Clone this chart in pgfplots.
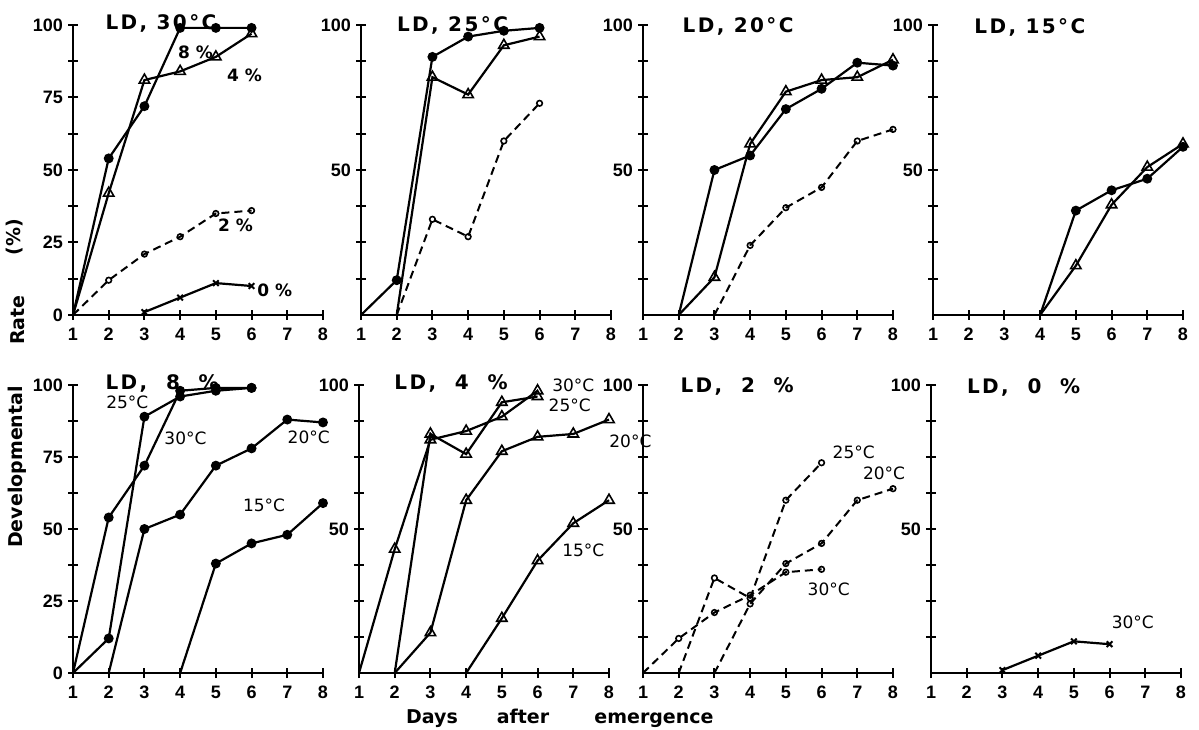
\documentclass[border=0pt]{standalone}
\usepackage{fontspec}
\setmainfont{DejaVu Sans}
\newfontfamily\ttl[LetterSpace=12]{DejaVu Sans}
\newfontfamily\tickfont{Liberation Sans}
\usepackage{pgfplots}
\pgfplotsset{compat=1.18}
\pgfplotsset{
  panel/.style={
    scale only axis, width=125pt,
    xmin=1, xmax=8, ymin=0, ymax=100,
    axis lines=left,
    axis line style={-, line width=1.1pt},
    xtick={1,2,3,4,5,6,7,8}, xticklabels={1,2,3,4,5,6,7,8},
    tick align=center, major tick length=5pt, minor tick length=5pt,
    every tick/.style={black, line width=1pt},
    every minor tick/.style={black, line width=1pt},
    tick label style={font=\tickfont\bfseries\fontsize{9}{10}\selectfont},
    xticklabel style={yshift=-0.5pt},
    yticklabel style={xshift=1pt},
    clip=false,
  },
  lab4/.style={ytick={0,25,50,75,100}, yticklabels={0,25,50,75,100}, minor ytick={12.5,37.5,62.5,87.5}},
  lab2/.style={ytick={50,100}, yticklabels={50,100}, minor ytick={12.5,25,37.5,62.5,75,87.5}},
  s8/.style={black, line width=1.1pt, mark=*, mark size=1.9pt, mark options={solid}, mark indices={2,3,4,5,6,7,8}},
  s4/.style={black, line width=1.1pt, mark=triangle, mark size=3pt, mark options={solid, fill=white, line width=0.8pt}, mark indices={2,3,4,5,6,7,8}},
  s2/.style={black, line width=1pt, dash pattern=on 4pt off 2.5pt, mark=o, mark size=1.4pt, mark options={solid, fill=white, line width=0.8pt}, mark indices={2,3,4,5,6,7,8}},
  s0/.style={black, line width=1.1pt, mark=x, mark size=2pt, mark options={solid, line width=1pt}},
}
\tikzset{
  ttlstyle/.style={anchor=west, font=\ttl\bfseries\fontsize{10}{12}\selectfont, inner sep=0pt},
  pct/.style={font=\bfseries\fontsize{8.5}{10}\selectfont},
  tmp/.style={font=\fontsize{8.5}{10}\selectfont},
  axlab/.style={font=\bfseries\fontsize{9.5}{11}\selectfont},
}
\begin{document}
\begin{tikzpicture}
\useasboundingbox (0,0) rectangle (599.5pt,364.5pt);
% ---------------- top row ----------------
\begin{axis}[panel, lab4, height=145pt, at={(36.5pt,207pt)}, anchor=south west]
\addplot[s8] coordinates {(1,0)(2,54)(3,72)(4,99)(5,99)(6,99)};
\addplot[s4] coordinates {(1,0)(2,42)(3,81)(4,84)(5,89)(6,97)};
\addplot[s2] coordinates {(1,0)(2,12)(3,21)(4,27)(5,35)(6,36)};
\addplot[s0] coordinates {(3,1)(4,6)(5,11)(6,10)};
\node[ttlstyle] at (axis cs:1.9,100.5) {LD,\ 30°C};
\node[pct] at (axis cs:4.43,90.7) {8 \%};
\node[pct] at (axis cs:5.8,82.5) {4 \%};
\node[pct] at (axis cs:5.55,31) {2 \%};
\node[pct] at (axis cs:6.65,8.6) {0 \%};
\end{axis}
\begin{axis}[panel, lab2, height=145pt, at={(180.5pt,207pt)}, anchor=south west]
\addplot[s8] coordinates {(1,0)(2,12)(3,89)(4,96)(5,98)(6,99)};
\addplot[s4] coordinates {(2,0)(3,82)(4,76)(5,93)(6,96)};
\addplot[s2] coordinates {(2,0)(3,33)(4,27)(5,60)(6,73)};
\node[ttlstyle] at (axis cs:2.0,100) {LD,\ 25°C};
\end{axis}
\begin{axis}[panel, lab2, height=145pt, at={(321.5pt,207pt)}, anchor=south west]
\addplot[s8] coordinates {(2,0)(3,50)(4,55)(5,71)(6,78)(7,87)(8,86)};
\addplot[s4] coordinates {(2,0)(3,13)(4,59)(5,77)(6,81)(7,82)(8,88)};
\addplot[s2] coordinates {(3,0)(4,24)(5,37)(6,44)(7,60)(8,64)};
\node[ttlstyle] at (axis cs:2.1,99.5) {LD,\ 20°C};
\end{axis}
\begin{axis}[panel, lab2, height=145pt, at={(466.5pt,207pt)}, anchor=south west]
\addplot[s8] coordinates {(4,0)(5,36)(6,43)(7,47)(8,58)};
\addplot[s4] coordinates {(4,0)(5,17)(6,38)(7,51)(8,59)};
\node[ttlstyle] at (axis cs:2.15,99) {LD,\ 15°C};
\end{axis}
% ---------------- bottom row ----------------
\begin{axis}[panel, lab4, height=144pt, at={(36.5pt,28pt)}, anchor=south west]
\addplot[s8] coordinates {(1,0)(2,54)(3,72)(4,98)(5,99)(6,99)};
\addplot[s8] coordinates {(1,0)(2,12)(3,89)(4,96)(5,98)(6,99)};
\addplot[s8] coordinates {(2,0)(3,50)(4,55)(5,72)(6,78)(7,88)(8,87)};
\addplot[s8] coordinates {(4,0)(5,38)(6,45)(7,48)(8,59)};
\node[ttlstyle] at (axis cs:1.9,100.5) {LD,\ \ 8\ \ \%};
\node[tmp] at (axis cs:2.52,94) {25°C};
\node[tmp] at (axis cs:4.15,81.6) {30°C};
\node[tmp] at (axis cs:7.6,82) {20°C};
\node[tmp] at (axis cs:6.35,58.3) {15°C};
\end{axis}
\begin{axis}[panel, lab2, height=144pt, at={(179.5pt,28pt)}, anchor=south west]
\addplot[s4] coordinates {(1,0)(2,43)(3,81)(4,84)(5,89)(6,98)};
\addplot[s4] coordinates {(2,0)(3,83)(4,76)(5,94)(6,96)};
\addplot[s4] coordinates {(2,0)(3,14)(4,60)(5,77)(6,82)(7,83)(8,88)};
\addplot[s4] coordinates {(4,0)(5,19)(6,39)(7,52)(8,60)};
\node[ttlstyle] at (axis cs:1.98,100.5) {LD,\ \ 4\ \ \%};
\node[tmp] at (axis cs:7.0,100) {30°C};
\node[tmp] at (axis cs:6.9,93) {25°C};
\node[tmp] at (axis cs:8.6,80.5) {20°C};
\node[tmp] at (axis cs:7.28,42.7) {15°C};
\end{axis}
\begin{axis}[panel, lab2, height=144pt, at={(321.5pt,28pt)}, anchor=south west]
\addplot[s2] coordinates {(1,0)(2,12)(3,21)(4,27)(5,35)(6,36)};
\addplot[s2] coordinates {(2,0)(3,33)(4,26)(5,60)(6,73)};
\addplot[s2] coordinates {(3,0)(4,24)(5,38)(6,45)(7,60)(8,64)};
\node[ttlstyle] at (axis cs:2.04,99.6) {LD,\ \ 2\ \ \%};
\node[tmp] at (axis cs:6.9,76.7) {25°C};
\node[tmp] at (axis cs:7.75,69.4) {20°C};
\node[tmp] at (axis cs:6.2,29.2) {30°C};
\end{axis}
\begin{axis}[panel, lab2, height=144pt, at={(465.5pt,28pt)}, anchor=south west]
\addplot[s0] coordinates {(3,1)(4,6)(5,11)(6,10)};
\node[ttlstyle] at (axis cs:2.0,99) {LD,\ \ 0\ \ \%};
\node[tmp] at (axis cs:6.65,17.7) {30°C};
\end{axis}
% ---------------- axis titles ----------------
\node[rotate=90, axlab] at (8.5pt,131pt) {Developmental};
\node[rotate=90, axlab] at (9pt,204.5pt) {Rate};
\node[rotate=90, axlab] at (7.5pt,246pt) {(\%)};
\node[axlab, anchor=base] at (216pt,3pt) {Days};
\node[axlab, anchor=base] at (261.5pt,3pt) {after};
\node[axlab, anchor=base] at (327pt,3pt) {emergence};
\end{tikzpicture}
\end{document}
